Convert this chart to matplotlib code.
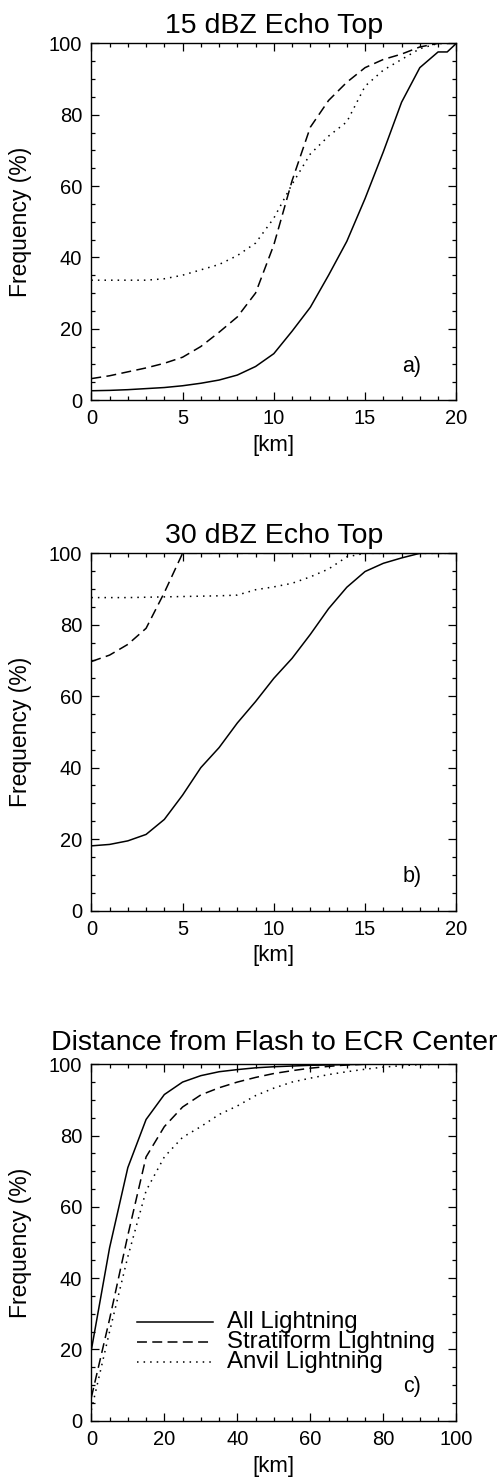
import matplotlib
matplotlib.use("Agg")
import matplotlib.pyplot as plt
from matplotlib.ticker import MultipleLocator

plt.rcParams['font.family'] = ['Liberation Sans', 'DejaVu Sans']

# 15 dBZ echo top (km) -- cumulative frequency (%)
a_km_all = [0, 1, 2, 3, 4, 5, 6, 7, 8, 9, 10, 11, 12, 13, 14, 15, 16, 17, 18, 19, 19.5, 20]
a_all = [2.6, 2.7, 2.9, 3.2, 3.5, 4.0, 4.7, 5.6, 7.0, 9.4, 13.0, 19.3, 26.0, 35.0, 44.5, 56.5,
         69.6, 83.5, 93.2, 97.6, 97.6, 100]
a_km = list(range(0, 21))
a_strat = [6.0, 6.8, 7.9, 9.0, 10.3, 12.0, 15.0, 19.0, 23.3, 30.0, 43.5, 61.5, 76.5, 84.0, 89.1,
           93.2, 95.5, 97.0, 99.0, 100, 100]
a_anvil = [33.6, 33.6, 33.6, 33.6, 34.0, 35.0, 36.5, 38.0, 40.5, 44.0, 51.0, 60.5, 69.0, 74.0,
           78.0, 88.0, 92.5, 95.5, 98.5, 100, 100]

# 30 dBZ echo top
b_km = list(range(0, 21))
b_all = [18.1, 18.5, 19.5, 21.3, 25.5, 32.3, 40.0, 45.6, 52.5, 58.5, 65.0, 70.6, 77.3, 84.5,
         90.5, 94.9, 97.2, 98.7, 100, 100, 100]
b_strat = [69.7, 71.5, 74.5, 79.0, 89.0, 100, 100, 100, 100, 100, 100, 100, 100, 100, 100,
           100, 100, 100, 100, 100, 100]
b_anvil = [87.6, 87.6, 87.6, 87.7, 87.8, 87.9, 88.0, 88.1, 88.3, 89.8, 90.6, 91.6, 93.4, 95.6,
           99.0, 100, 100, 100, 100, 100, 100]

# distance from flash to ECR center
c_km = list(range(0, 100, 5))
c_all = [19.8, 48.5, 71.0, 84.5, 91.5, 95.0, 96.8, 97.9, 98.5, 99.0, 99.3, 99.5, 99.7, 99.8,
         99.9, 100, 100, 100, 100, 100]
c_strat = [6.5, 28.5, 52.0, 74.0, 82.5, 88.0, 91.4, 93.4, 95.0, 96.3, 97.4, 98.2, 98.9, 99.4,
           99.8, 100, 100, 100, 100, 100]
c_anvil = [3.0, 25.0, 46.0, 64.5, 74.0, 79.5, 82.5, 85.9, 88.3, 91.2, 93.3, 95.0, 96.1, 97.1,
           97.9, 98.6, 99.2, 99.6, 99.9, 100]

titles = ['15 dBZ Echo Top', '30 dBZ Echo Top', 'Distance from Flash to ECR Center']
title_pads = [7.5, 7.5, 10]
tags = ['a)', 'b)', 'c)']
labels = ['All Lightning', 'Stratiform Lightning', 'Anvil Lightning']

SOLID = '-'
DASH = (0, (6.5, 3.5))
DOT = (0, (1, 3.3))
LW = 1.1

fig = plt.figure(figsize=(5.04, 14.81), dpi=100)
ax_a = fig.add_axes([0.1812, 0.7299, 0.7242, 0.2408])
ax_b = fig.add_axes([0.1812, 0.3852, 0.7242, 0.2412])
ax_c = fig.add_axes([0.1812, 0.0407, 0.7242, 0.2407])

ax_a.plot(a_km_all, a_all, color='k', lw=LW, ls=SOLID)
ax_a.plot(a_km, a_strat, color='k', lw=LW, ls=DASH)
ax_a.plot(a_km, a_anvil, color='k', lw=LW, ls=DOT)

ax_b.plot(b_km, b_all, color='k', lw=LW, ls=SOLID)
ax_b.plot(b_km, b_strat, color='k', lw=LW, ls=DASH)
ax_b.plot(b_km, b_anvil, color='k', lw=LW, ls=DOT)

ax_c.plot(c_km, c_all, color='k', lw=LW, ls=SOLID)
ax_c.plot(c_km, c_strat, color='k', lw=LW, ls=DASH)
ax_c.plot(c_km, c_anvil, color='k', lw=LW, ls=DOT)

for ax, title, tp, tag in zip([ax_a, ax_b, ax_c], titles, title_pads, tags):
    ax.set_ylim(0, 100)
    ax.set_title(title, fontsize=20.5, pad=tp)
    ax.set_ylabel('Frequency (%)', fontsize=16.5, labelpad=12)
    ax.set_xlabel('[km]', fontsize=16, labelpad=5)
    ax.yaxis.set_major_locator(MultipleLocator(20))
    ax.yaxis.set_minor_locator(MultipleLocator(5))
    ax.tick_params(which='both', direction='in', top=True, right=True, width=0.9)
    ax.tick_params(which='major', length=5.5, labelsize=14.5, pad=6.5)
    ax.tick_params(which='minor', length=2.8)
    for s in ax.spines.values():
        s.set_linewidth(1.0)
    ax.text(0.878, 0.095, tag, transform=ax.transAxes, fontsize=15.5, ha='center', va='center')

ax_a.set_xlim(0, 20)
ax_b.set_xlim(0, 20)
ax_c.set_xlim(0, 100)
for ax in [ax_a, ax_b]:
    ax.xaxis.set_major_locator(MultipleLocator(5))
    ax.xaxis.set_minor_locator(MultipleLocator(1))
ax_c.xaxis.set_major_locator(MultipleLocator(20))
ax_c.xaxis.set_minor_locator(MultipleLocator(5))

# line-style key inside panel c
key_y = [0.278, 0.222, 0.166]
for ls, lab, yy in zip([SOLID, DASH, DOT], labels, key_y):
    ax_c.plot([0.124, 0.334], [yy, yy], transform=ax_c.transAxes, color='k', lw=LW, ls=ls)
    ax_c.text(0.371, yy, lab, transform=ax_c.transAxes, fontsize=17.3, va='center', ha='left')

plt.savefig("out.png", dpi=100)
